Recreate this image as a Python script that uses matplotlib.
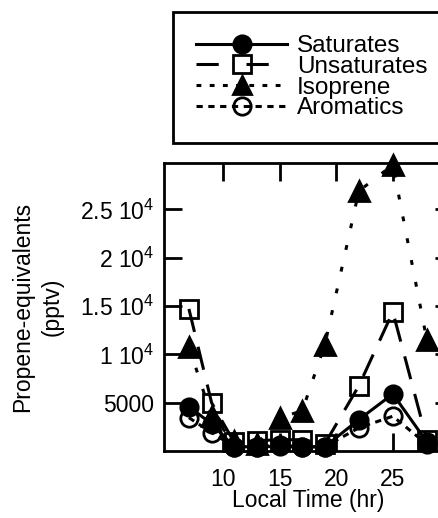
import numpy as np
import matplotlib
matplotlib.use("Agg")
from matplotlib import pyplot as plt
from matplotlib.lines import Line2D

plt.rcParams["font.family"] = ["Liberation Sans", "DejaVu Sans"]
plt.rcParams["mathtext.fontset"] = "custom"
plt.rcParams["mathtext.rm"] = "Liberation Sans"
plt.rcParams["mathtext.it"] = "Liberation Sans"
plt.rcParams["lines.scale_dashes"] = False

# values
hours = [7, 9, 11, 13, 15, 17, 19, 22, 25, 28]
saturates = [4600, 2800, 450, 420, 480, 380, 450, 3250, 5900, 950]
unsaturates = [14700, 5000, 900, 1070, 1170, 1170, 750, 6750, 14400, 1170]
isoprene = [10800, 3600, 1000, 700, 3450, 4150, 11000, 26900, 29600, 11500]
aromatics = [3450, 1900, 450, 450, 600, 450, 450, 2400, 3600, 700]

series_names = ["Saturates", "Unsaturates", "Isoprene", "Aromatics"]
y_ticks = [5000, 10000, 15000, 20000, 25000]
y_tick_labels = ["5000", "1 10$^{4}$", "1.5 10$^{4}$", "2 10$^{4}$", "2.5 10$^{4}$"]
x_ticks = [10, 15, 20, 25]

fig = plt.figure(figsize=(4.39, 5.18), dpi=100)
ax = fig.add_axes([0.3736, 0.1293, 0.658, 0.556])

common = dict(color="black", lw=2.2, markersize=12.5, markeredgewidth=2, clip_on=False)
styles = {
    "Unsaturates": dict(marker="s", mfc="none", dashes=(17, 11)),
    "Isoprene": dict(marker="^", mfc="black", dashes=(3.5, 12.5), markersize=14),
    "Saturates": dict(marker="o", mfc="black", linestyle="-"),
    "Aromatics": dict(marker="o", mfc="none", dashes=(4.5, 4)),
}
values = {"Saturates": saturates, "Unsaturates": unsaturates,
          "Isoprene": isoprene, "Aromatics": aromatics}

for name in ["Unsaturates", "Isoprene", "Saturates", "Aromatics"]:
    kw = dict(common)
    kw.update(styles[name])
    ax.plot(hours, values[name], **kw)

ax.set_xlim(4.8, 30.3)
ax.set_ylim(0, 29800)
ax.set_xticks(x_ticks)
ax.set_yticks(y_ticks)
ax.set_yticklabels(y_tick_labels)
ax.tick_params(direction="in", length=13, width=2, labelsize=16.5,
               top=True, right=True)
ax.tick_params(axis="x", pad=12)
ax.tick_params(axis="y", pad=7)
for s in ax.spines.values():
    s.set_linewidth(2)

ax.set_xlabel("Local Time (hr)", fontsize=16.5, labelpad=-1)
ax.set_ylabel("Propene-equivalents\n(pptv)", fontsize=16.5, labelpad=12,
              multialignment="center", linespacing=1.35)

# legend handles
legend_dashes = {"Saturates": None, "Unsaturates": (16, 20),
                 "Isoprene": (3.5, 6), "Aromatics": (4.5, 4)}
handles = []
for name in series_names:
    kw = dict(color="black", lw=2.2, markersize=12.5, markeredgewidth=2)
    kw["marker"] = styles[name]["marker"]
    kw["mfc"] = styles[name]["mfc"]
    if legend_dashes[name] is not None:
        kw["dashes"] = legend_dashes[name]
    handles.append(Line2D([], [], **kw))

leg = fig.legend(handles, series_names, loc="upper left",
                 bbox_to_anchor=(173 / 439, 1 - 142 / 518, 300 / 439, 130 / 518),
                 mode="expand", fontsize=17.5, handlelength=3.75,
                 handletextpad=0.4, labelspacing=-0.05, borderpad=0.95,
                 borderaxespad=0, fancybox=False, frameon=True, framealpha=1)
leg.get_frame().set_edgecolor("black")
leg.get_frame().set_linewidth(2)

fig.savefig("out.png", dpi=100)
